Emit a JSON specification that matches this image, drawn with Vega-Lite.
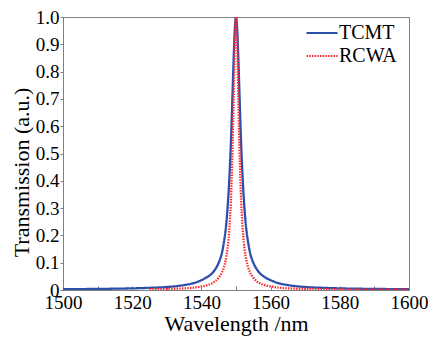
{
  "$schema": "https://vega.github.io/schema/vega-lite/v6.json",
  "width": 346,
  "height": 273,
  "autosize": {"type": "none"},
  "padding": {"left": 63, "top": 17, "right": 19, "bottom": 52},
  "background": "white",
  "config": {
    "view": {"stroke": "#808080", "strokeWidth": 1},
    "font": "Liberation Serif"
  },
  "data": {
    "values": [
      {"x": 1500, "y": 0.003, "s": "TCMT"},
      {"x": 1510, "y": 0.004, "s": "TCMT"},
      {"x": 1520, "y": 0.006, "s": "TCMT"},
      {"x": 1525, "y": 0.008, "s": "TCMT"},
      {"x": 1530, "y": 0.011, "s": "TCMT"},
      {"x": 1535, "y": 0.018, "s": "TCMT"},
      {"x": 1538, "y": 0.026, "s": "TCMT"},
      {"x": 1540, "y": 0.036, "s": "TCMT"},
      {"x": 1542, "y": 0.05, "s": "TCMT"},
      {"x": 1543, "y": 0.06, "s": "TCMT"},
      {"x": 1544, "y": 0.076, "s": "TCMT"},
      {"x": 1545, "y": 0.1, "s": "TCMT"},
      {"x": 1546, "y": 0.14, "s": "TCMT"},
      {"x": 1546.5, "y": 0.175, "s": "TCMT"},
      {"x": 1547, "y": 0.22, "s": "TCMT"},
      {"x": 1547.5, "y": 0.29, "s": "TCMT"},
      {"x": 1548, "y": 0.39, "s": "TCMT"},
      {"x": 1548.25, "y": 0.455, "s": "TCMT"},
      {"x": 1548.5, "y": 0.53, "s": "TCMT"},
      {"x": 1548.75, "y": 0.62, "s": "TCMT"},
      {"x": 1549, "y": 0.72, "s": "TCMT"},
      {"x": 1549.25, "y": 0.82, "s": "TCMT"},
      {"x": 1549.5, "y": 0.91, "s": "TCMT"},
      {"x": 1549.75, "y": 0.976, "s": "TCMT"},
      {"x": 1550, "y": 1.0, "s": "TCMT"},
      {"x": 1550.25, "y": 0.976, "s": "TCMT"},
      {"x": 1550.5, "y": 0.91, "s": "TCMT"},
      {"x": 1550.75, "y": 0.82, "s": "TCMT"},
      {"x": 1551, "y": 0.72, "s": "TCMT"},
      {"x": 1551.25, "y": 0.62, "s": "TCMT"},
      {"x": 1551.5, "y": 0.53, "s": "TCMT"},
      {"x": 1551.75, "y": 0.455, "s": "TCMT"},
      {"x": 1552, "y": 0.39, "s": "TCMT"},
      {"x": 1552.5, "y": 0.29, "s": "TCMT"},
      {"x": 1553, "y": 0.22, "s": "TCMT"},
      {"x": 1553.5, "y": 0.175, "s": "TCMT"},
      {"x": 1554, "y": 0.14, "s": "TCMT"},
      {"x": 1555, "y": 0.1, "s": "TCMT"},
      {"x": 1556, "y": 0.076, "s": "TCMT"},
      {"x": 1557, "y": 0.06, "s": "TCMT"},
      {"x": 1558, "y": 0.05, "s": "TCMT"},
      {"x": 1560, "y": 0.036, "s": "TCMT"},
      {"x": 1562, "y": 0.026, "s": "TCMT"},
      {"x": 1565, "y": 0.018, "s": "TCMT"},
      {"x": 1570, "y": 0.011, "s": "TCMT"},
      {"x": 1575, "y": 0.008, "s": "TCMT"},
      {"x": 1580, "y": 0.006, "s": "TCMT"},
      {"x": 1590, "y": 0.004, "s": "TCMT"},
      {"x": 1600, "y": 0.003, "s": "TCMT"},
      {"x": 1525, "y": 0.003, "s": "RCWA"},
      {"x": 1530, "y": 0.004, "s": "RCWA"},
      {"x": 1535, "y": 0.006, "s": "RCWA"},
      {"x": 1538, "y": 0.009, "s": "RCWA"},
      {"x": 1540, "y": 0.013, "s": "RCWA"},
      {"x": 1542, "y": 0.019, "s": "RCWA"},
      {"x": 1543, "y": 0.024, "s": "RCWA"},
      {"x": 1544, "y": 0.032, "s": "RCWA"},
      {"x": 1545, "y": 0.045, "s": "RCWA"},
      {"x": 1546, "y": 0.066, "s": "RCWA"},
      {"x": 1546.5, "y": 0.083, "s": "RCWA"},
      {"x": 1547, "y": 0.108, "s": "RCWA"},
      {"x": 1547.5, "y": 0.148, "s": "RCWA"},
      {"x": 1548, "y": 0.21, "s": "RCWA"},
      {"x": 1548.25, "y": 0.26, "s": "RCWA"},
      {"x": 1548.5, "y": 0.32, "s": "RCWA"},
      {"x": 1548.75, "y": 0.41, "s": "RCWA"},
      {"x": 1549, "y": 0.52, "s": "RCWA"},
      {"x": 1549.25, "y": 0.66, "s": "RCWA"},
      {"x": 1549.5, "y": 0.82, "s": "RCWA"},
      {"x": 1549.75, "y": 0.95, "s": "RCWA"},
      {"x": 1550, "y": 1.0, "s": "RCWA"},
      {"x": 1550.25, "y": 0.95, "s": "RCWA"},
      {"x": 1550.5, "y": 0.82, "s": "RCWA"},
      {"x": 1550.75, "y": 0.66, "s": "RCWA"},
      {"x": 1551, "y": 0.52, "s": "RCWA"},
      {"x": 1551.25, "y": 0.41, "s": "RCWA"},
      {"x": 1551.5, "y": 0.32, "s": "RCWA"},
      {"x": 1551.75, "y": 0.26, "s": "RCWA"},
      {"x": 1552, "y": 0.21, "s": "RCWA"},
      {"x": 1552.5, "y": 0.148, "s": "RCWA"},
      {"x": 1553, "y": 0.108, "s": "RCWA"},
      {"x": 1553.5, "y": 0.083, "s": "RCWA"},
      {"x": 1554, "y": 0.066, "s": "RCWA"},
      {"x": 1555, "y": 0.045, "s": "RCWA"},
      {"x": 1556, "y": 0.032, "s": "RCWA"},
      {"x": 1557, "y": 0.024, "s": "RCWA"},
      {"x": 1558, "y": 0.019, "s": "RCWA"},
      {"x": 1560, "y": 0.013, "s": "RCWA"},
      {"x": 1562, "y": 0.009, "s": "RCWA"},
      {"x": 1565, "y": 0.006, "s": "RCWA"},
      {"x": 1570, "y": 0.004, "s": "RCWA"},
      {"x": 1575, "y": 0.003, "s": "RCWA"},
      {"x": 1580, "y": 0.002, "s": "RCWA"},
      {"x": 1590, "y": 0.001, "s": "RCWA"},
      {"x": 1600, "y": 0.001, "s": "RCWA"}
    ]
  },
  "mark": {"type": "line", "interpolate": "monotone", "clip": true, "strokeWidth": 2.3},
  "encoding": {
    "x": {
      "field": "x",
      "type": "quantitative",
      "scale": {"domain": [1500, 1600], "nice": false},
      "axis": {
        "title": "Wavelength /nm",
        "values": [1500, 1510, 1520, 1530, 1540, 1550, 1560, 1570, 1580, 1590, 1600],
        "labelExpr": "datum.value % 20 == 0 ? format(datum.value, 'd') : ''",
        "grid": false,
        "domainColor": "#808080",
        "tickColor": "#808080",
        "tickSize": -4,
        "labelPadding": 7,
        "labelFont": "Liberation Serif",
        "labelFontSize": 19,
        "labelColor": "black",
        "labelFlush": false,
        "labelOverlap": false,
        "titleFont": "Liberation Serif",
        "titleFontSize": 22,
        "titleFontWeight": "normal",
        "titleColor": "black",
        "titlePadding": 1
      }
    },
    "y": {
      "field": "y",
      "type": "quantitative",
      "scale": {"domain": [0, 1], "nice": false},
      "axis": {
        "title": "Transmission (a.u.)",
        "values": [0, 0.1, 0.2, 0.3, 0.4, 0.5, 0.6, 0.7, 0.8, 0.9, 1],
        "labelExpr": "datum.value == 0 ? '0' : format(datum.value, '.1f')",
        "grid": false,
        "domainColor": "#808080",
        "tickColor": "#808080",
        "tickSize": 3,
        "labelPadding": 1,
        "labelFont": "Liberation Serif",
        "labelFontSize": 19,
        "labelColor": "black",
        "labelFlush": false,
        "labelOverlap": false,
        "titleFont": "Liberation Serif",
        "titleFontSize": 22,
        "titleFontWeight": "normal",
        "titleColor": "black",
        "titlePadding": 2,
        "titleY": 155
      }
    },
    "color": {
      "field": "s",
      "type": "nominal",
      "scale": {"domain": ["TCMT", "RCWA"], "range": ["#2d4fac", "#ff2b2b"]},
      "legend": {
        "title": null,
        "orient": "none",
        "legendX": 249,
        "legendY": 6,
        "padding": 0,
        "symbolType": "M-3.1,0H3.1",
        "symbolSize": 100,
        "symbolStrokeWidth": 2,
        "labelFont": "Liberation Serif",
        "labelFontSize": 20,
        "labelColor": "black",
        "labelOffset": 7,
        "rowPadding": 3
      }
    },
    "strokeDash": {
      "field": "s",
      "type": "nominal",
      "scale": {"domain": ["TCMT", "RCWA"], "range": [[1, 0], [1.5, 1.2]]},
      "legend": {
        "title": null,
        "orient": "none",
        "legendX": 249,
        "legendY": 6,
        "padding": 0,
        "symbolType": "M-3.1,0H3.1",
        "symbolSize": 100,
        "symbolStrokeWidth": 2,
        "labelFont": "Liberation Serif",
        "labelFontSize": 20,
        "labelColor": "black",
        "labelOffset": 7,
        "rowPadding": 3
      }
    }
  }
}
